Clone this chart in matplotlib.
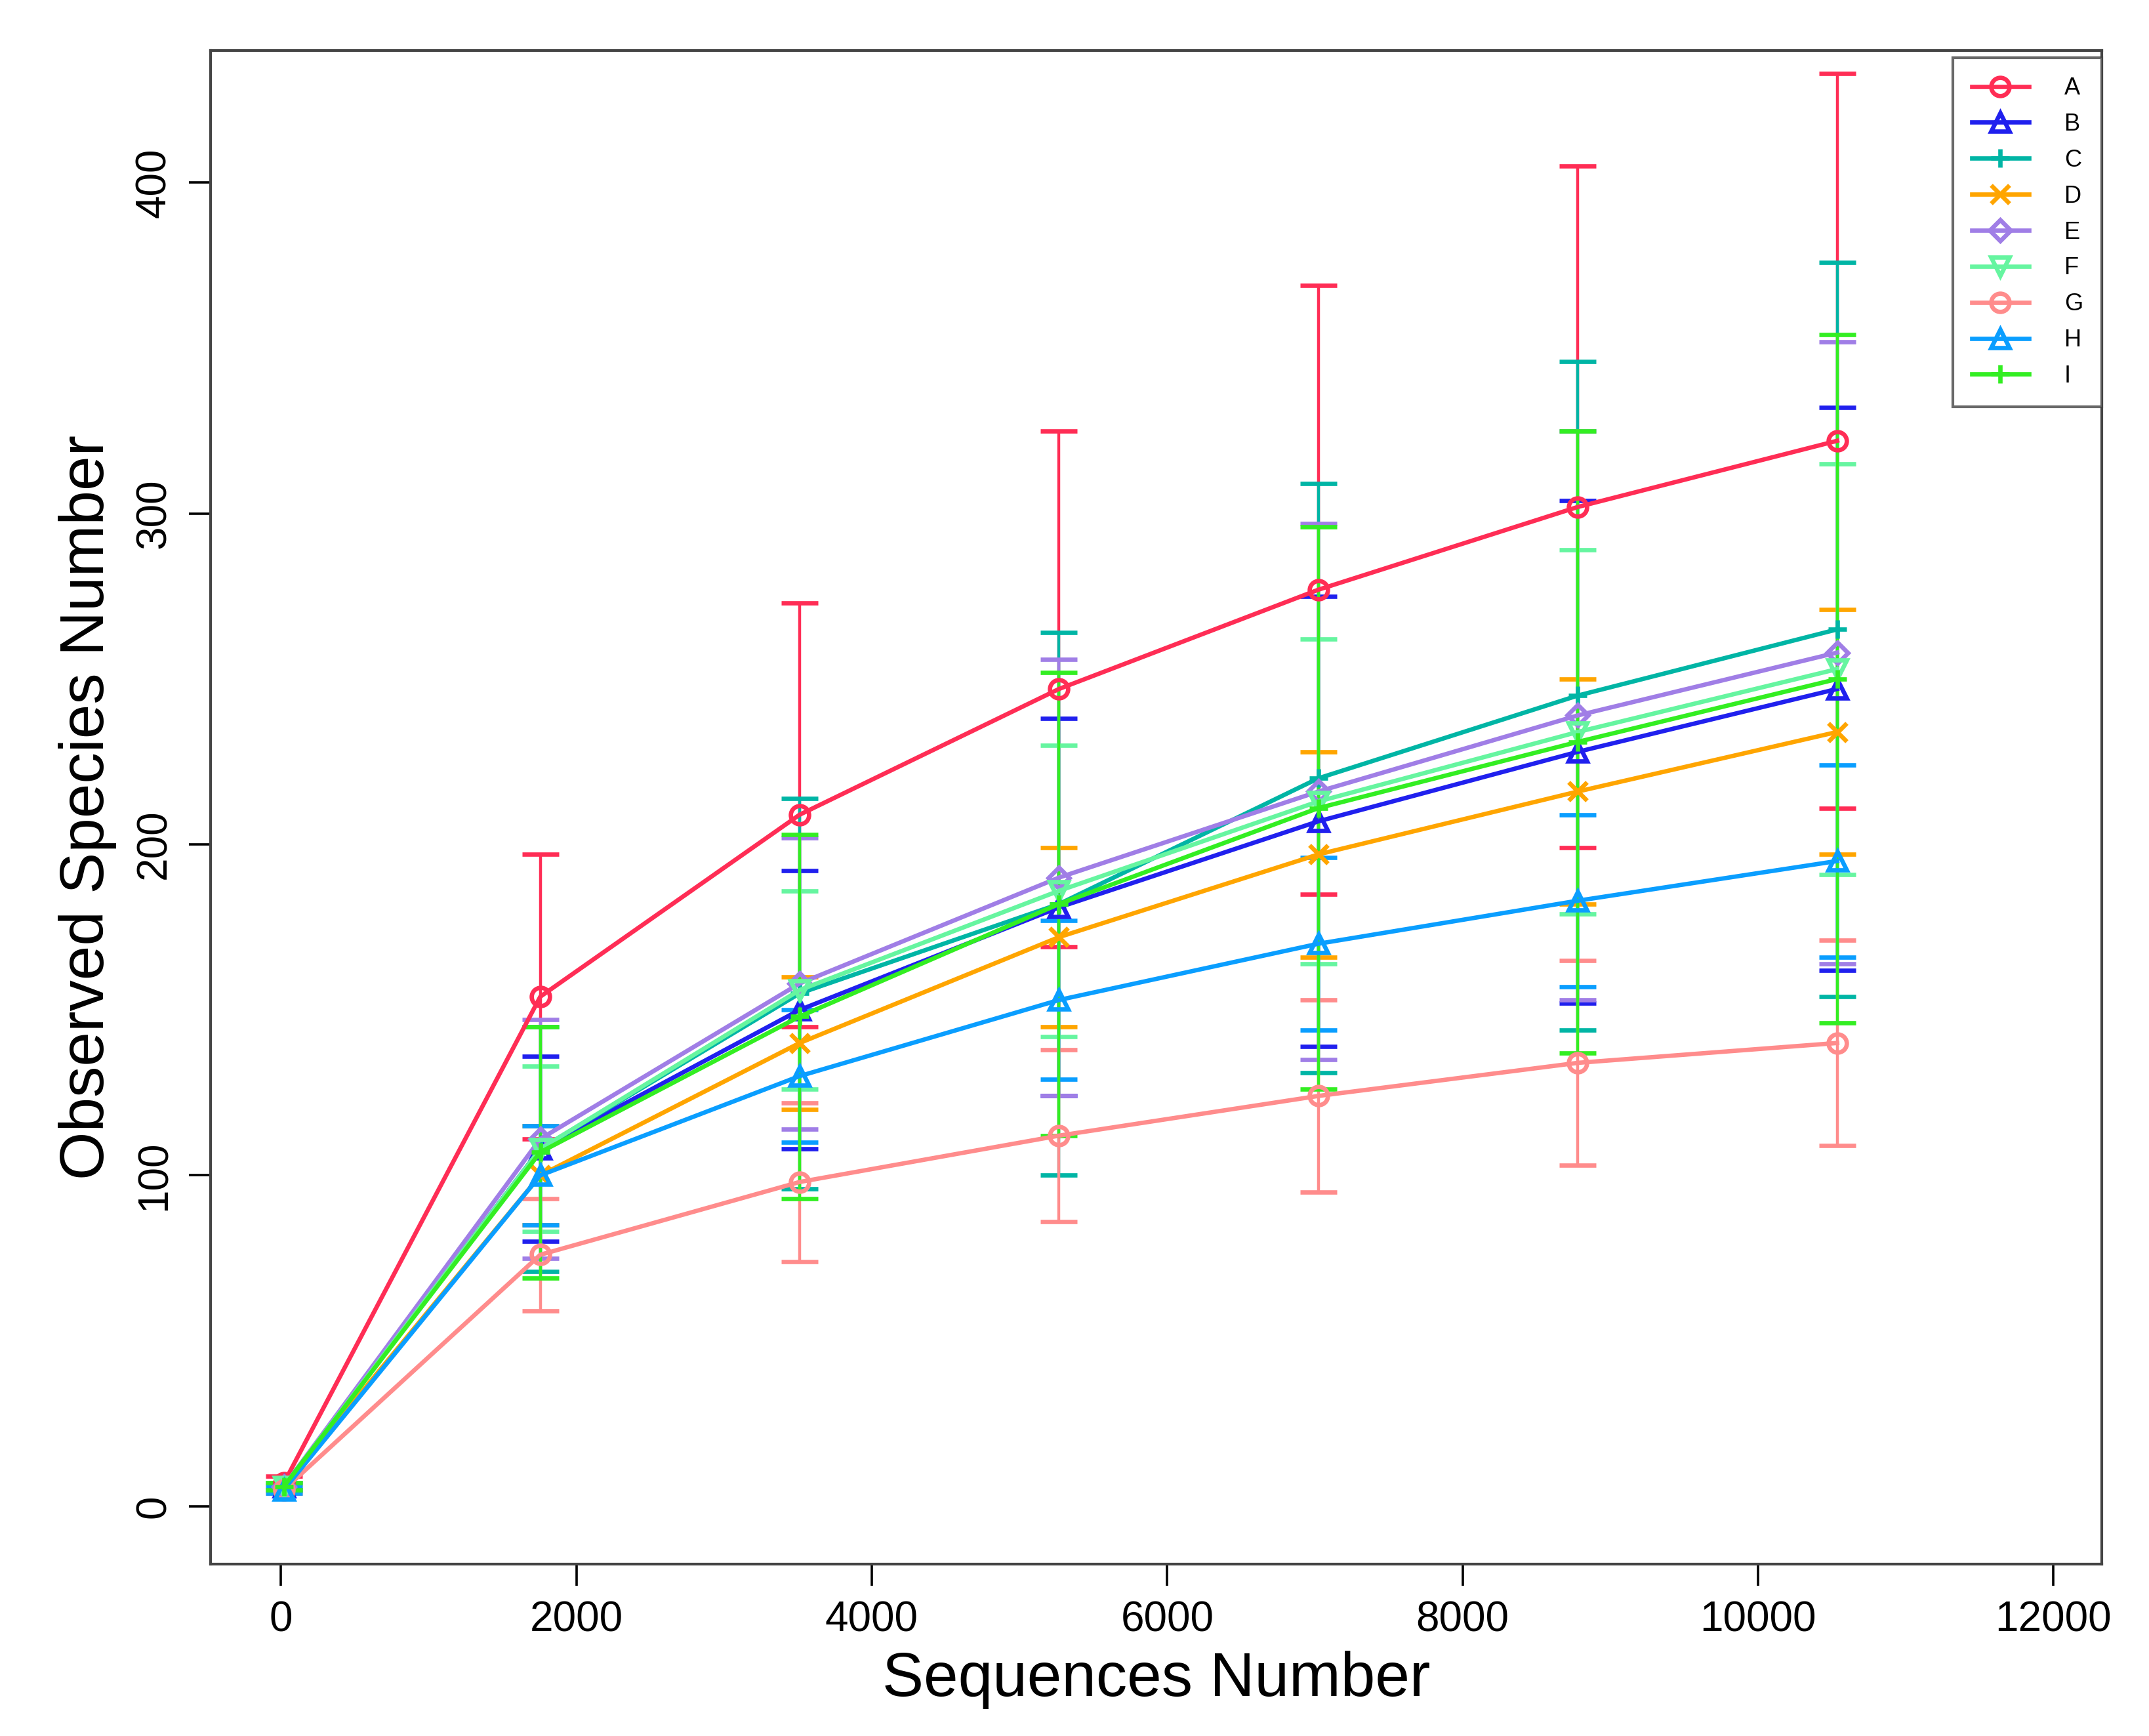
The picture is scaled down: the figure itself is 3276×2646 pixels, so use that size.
import matplotlib

matplotlib.use("Agg")
import matplotlib.pyplot as plt
from matplotlib.lines import Line2D
import numpy as np

plt.rcParams["font.family"] = ["Liberation Sans", "DejaVu Sans"]

SEQS = [20, 1756, 3512, 5268, 7024, 8780, 10536]
NAMES = ["A", "B", "C", "D", "E", "F", "G", "H", "I"]
MEANS = {
    "A": [7, 154, 209, 247, 277, 302, 322],
    "B": [6, 108, 150, 181, 207, 228, 247],
    "C": [6, 108, 155, 182, 220, 245, 265],
    "D": [6, 100, 140, 172, 197, 216, 234],
    "E": [6, 111, 158, 190, 216, 239, 258],
    "F": [6, 108, 156, 186, 213, 234, 253],
    "G": [5, 76, 98, 112, 124, 134, 140],
    "H": [5, 100, 130, 153, 170, 183, 195],
    "I": [6, 107, 148, 182, 211, 231, 250],
}
SDS = {
    "A": [2, 43, 64, 78, 92, 103, 111],
    "B": [1, 28, 42, 57, 68, 76, 85],
    "C": [1, 37, 59, 82, 89, 101, 111],
    "D": [1, 15, 20, 27, 31, 34, 37],
    "E": [1, 36, 44, 66, 81, 86, 94],
    "F": [1, 25, 30, 44, 49, 55, 62],
    "G": [1, 17, 24, 26, 29, 31, 31],
    "H": [1, 15, 20, 24, 26, 26, 29],
    "I": [1, 38, 55, 70, 85, 94, 104],
}
COLORS = {"A": "#ff2d55", "B": "#2020ee", "C": "#00b5a5", "D": "#ffa500", "E": "#a07ee6",
          "F": "#66f5a0", "G": "#ff8c8c", "H": "#0a9eff", "I": "#33ee22"}
MARKERS = {"A": "o", "B": "^", "C": "+", "D": "x", "E": "D", "F": "v", "G": "o", "H": "^", "I": "+"}

fig = plt.figure(figsize=(16.38, 13.23), dpi=200)
ax = fig.add_axes([0.098, 0.099, 0.88, 0.872])

handles = []
for n in NAMES:
    c = COLORS[n]
    ms = 10 if MARKERS[n] != "D" else 8
    ax.errorbar(SEQS, MEANS[n], yerr=SDS[n], color=c, linewidth=2.4, elinewidth=1.6,
                capsize=10, capthick=1.4, marker=MARKERS[n], markersize=ms,
                markerfacecolor="none", markeredgewidth=2.4)
    handles.append(Line2D([], [], color=c, linewidth=2.4, marker=MARKERS[n], markersize=ms,
                          markerfacecolor="none", markeredgewidth=2.4, label=n))

ax.set_xlim(-476, 12327)
ax.set_ylim(-17.5, 440)
ax.set_xticks(np.arange(0, 12001, 2000))
ax.set_yticks([0, 100, 200, 300, 400])
ax.tick_params(labelsize=23, length=12, width=1.3, pad=8)
for lbl in ax.get_yticklabels():
    lbl.set_rotation(90)
    lbl.set_va("center")
ax.set_xlabel("Sequences Number", fontsize=34, labelpad=6)
ax.set_ylabel("Observed Species Number", fontsize=34, labelpad=10)
for s in ax.spines.values():
    s.set_linewidth(1.5)
    s.set_color("#444444")

leg = ax.legend(handles=handles, loc="upper right", fontsize=13, frameon=True, fancybox=False,
                edgecolor="#444444", borderaxespad=0.0, handlelength=2.4, labelspacing=0.55,
                handletextpad=1.5, borderpad=0.8, bbox_to_anchor=(1.0, 0.995))
leg.get_frame().set_linewidth(1.5)

fig.savefig("out.png", dpi=200)
